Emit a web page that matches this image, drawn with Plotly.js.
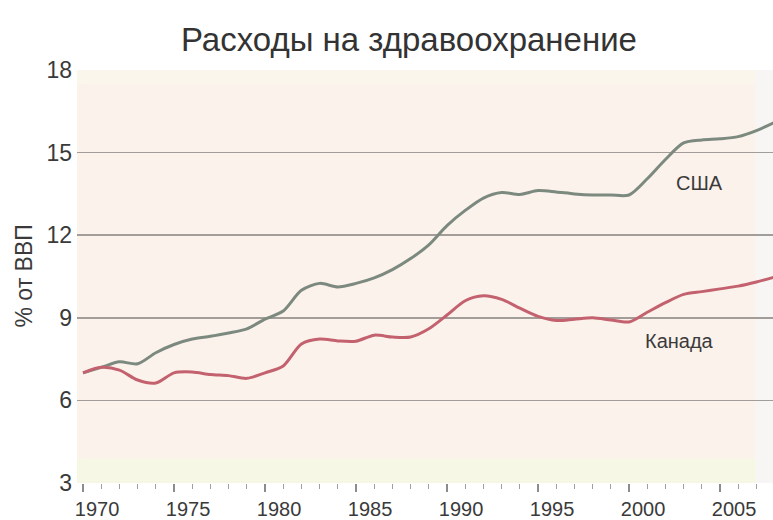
<!DOCTYPE html>
<html>
<head>
<meta charset="utf-8">
<script src="https://cdn.plot.ly/plotly-3.0.1.min.js"></script>
<style>html,body{margin:0;padding:0;background:#fff;}#chart{width:773px;height:520px;}</style>
</head>
<body>
<div id="chart"></div>
<script>
const years = [1970,1971,1972,1973,1974,1975,1976,1977,1978,1979,1980,1981,1982,1983,1984,1985,1986,1987,1988,1989,1990,1991,1992,1993,1994,1995,1996,1997,1998,1999,2000,2001,2002,2003,2004,2005,2006,2007,2008];
const usa = [7.0,7.2,7.4,7.33,7.73,8.03,8.23,8.33,8.45,8.6,8.95,9.25,10.0,10.25,10.12,10.25,10.45,10.75,11.15,11.65,12.35,12.9,13.35,13.55,13.48,13.62,13.57,13.5,13.46,13.46,13.46,14.05,14.75,15.35,15.46,15.5,15.58,15.8,16.1];
const canada = [7.0,7.2,7.1,6.74,6.63,7.0,7.03,6.94,6.9,6.8,7.0,7.25,8.05,8.23,8.16,8.15,8.37,8.3,8.3,8.6,9.1,9.62,9.8,9.67,9.35,9.05,8.9,8.95,9.0,8.92,8.85,9.2,9.55,9.85,9.95,10.05,10.15,10.3,10.48];
const xTicks = [1970,1975,1980,1985,1990,1995,2000,2005];
const yTicks = [3,6,9,12,15,18];
const seriesNames = ['США','Канада'];
const labelPos = [{x:2003.85, y:13.9}, {x:2002.75, y:8.15}];
const titleText = 'Расходы на здравоохранение';
const yTitle = '% от ВВП';

const FONT = 'Liberation Sans, Arial, Helvetica, sans-serif';
const X0 = 1969.67, X1 = 2007.91, BG_END = 2006.95;
const traces = [
  {x: years, y: usa, name: seriesNames[0], mode: 'lines', line: {color: '#7c897f', width: 3, shape: 'spline', smoothing: 0.8}},
  {x: years, y: canada, name: seriesNames[1], mode: 'lines', line: {color: '#c3626e', width: 3, shape: 'spline', smoothing: 0.8}}
];
const layout = {
  width: 773, height: 520,
  margin: {l: 77, r: 0, t: 70, b: 37},
  paper_bgcolor: '#ffffff',
  plot_bgcolor: '#f7f6f4',
  showlegend: false,
  title: {text: titleText, x: 0.529, xanchor: 'center', y: 0.925, yanchor: 'middle', font: {family: FONT, size: 33, color: '#333333'}},
  xaxis: {
    range: [X0, X1], tickvals: xTicks, ticktext: xTicks.map(String),
    ticks: 'outside', ticklen: 8, tickwidth: 1.5, tickcolor: '#8c8c8c',
    minor: {dtick: 1, tick0: 1970, ticks: 'outside', ticklen: 5, tickwidth: 1, tickcolor: '#a0a0a0', showgrid: false},
    showgrid: false, zeroline: false, showline: false,
    ticklabelshift: 14,
    tickfont: {family: FONT, size: 20, color: '#3a3a3a'}
  },
  yaxis: {
    range: [3, 18], tickvals: yTicks, ticktext: yTicks.map(String),
    showgrid: true, gridcolor: '#a39d9a', gridwidth: 1.6, zeroline: false,
    ticks: '', ticklabelstandoff: 4,
    tickfont: {family: FONT, size: 23, color: '#3a3a3a'}
  },
  shapes: [
    {type: 'rect', xref: 'x', yref: 'y', x0: X0, x1: BG_END, y0: 3.9, y1: 17.5, fillcolor: '#fcf2ec', line: {width: 0}, layer: 'below'},
    {type: 'rect', xref: 'x', yref: 'y', x0: X0, x1: BG_END, y0: 3, y1: 3.9, fillcolor: '#f7f7e6', line: {width: 0}, layer: 'below'},
    {type: 'rect', xref: 'x', yref: 'y', x0: X0, x1: BG_END, y0: 17.5, y1: 18, fillcolor: '#faf6ec', line: {width: 0}, layer: 'below'},
    {type: 'rect', xref: 'paper', yref: 'paper', x0: 0, x1: 0.02, y0: 0, y1: 1, fillcolor: '#ffffff', opacity: 0.55, line: {width: 0}, layer: 'below'}
  ],
  annotations: [
    {x: labelPos[0].x, y: labelPos[0].y, xref: 'x', yref: 'y', text: seriesNames[0], showarrow: false, font: {family: FONT, size: 20, color: '#3a3a3a'}},
    {x: labelPos[1].x, y: labelPos[1].y, xref: 'x', yref: 'y', text: seriesNames[1], showarrow: false, font: {family: FONT, size: 20, color: '#3a3a3a'}},
    {x: 0, y: 0.5, xref: 'paper', yref: 'paper', xshift: -54, text: yTitle, textangle: -90, showarrow: false, xanchor: 'center', yanchor: 'middle', font: {family: FONT, size: 23, color: '#3a3a3a'}}
  ]
};
Plotly.newPlot('chart', traces, layout, {displayModeBar: false, staticPlot: true});
</script>
</body>
</html>
